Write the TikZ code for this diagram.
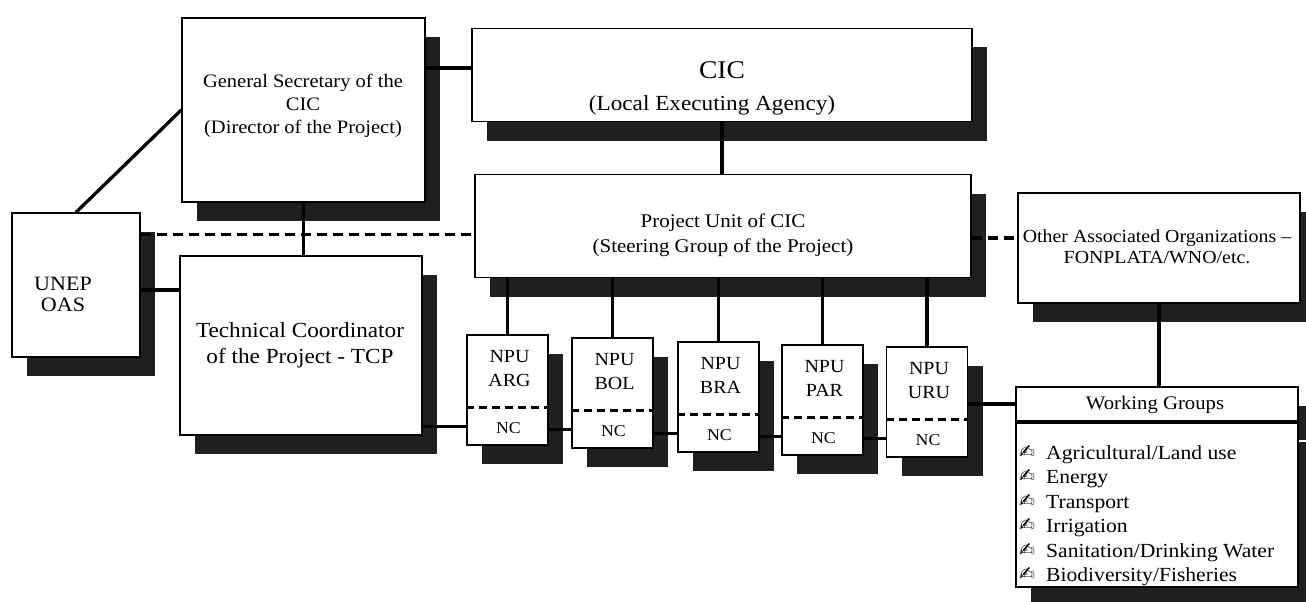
\documentclass[tikz,border=0pt]{standalone}
\usepackage{fontspec}
\setmainfont{Liberation Serif}[FakeStretch=1.08]
\newfontfamily\dejavu{DejaVu Sans}
\usetikzlibrary{shadows,calc}
\begin{document}
\begin{tikzpicture}[x=1pt,y=-1pt,
  box/.style={draw=black, line width=1.4pt, fill=white, rectangle, inner sep=0pt,
     drop shadow={shadow xshift=15pt, shadow yshift=-19pt, fill=black!88, opacity=1}},
  txt/.style={inner sep=0pt, anchor=base},
  link/.style={line width=3.3pt},
  dashlink/.style={line width=3.3pt, dash pattern=on 10pt off 6pt},
  npudiv/.style={line width=3pt, dash pattern=on 8pt off 5pt},
]
\useasboundingbox (0,0) rectangle (1306,602);

% boxes
\node[box, minimum width=243pt, minimum height=184pt] (gs) at (303.5,110) {};
\node[box, minimum width=500pt, minimum height=93pt] (cic) at (722,75) {};
\node[box, minimum width=496pt, minimum height=103pt] (pu) at (723,226) {};
\node[box, minimum width=128pt, minimum height=144pt] (unep) at (76,285) {};
\node[box, minimum width=242pt, minimum height=179pt] (tcp) at (301,345.5) {};
\node[box, minimum width=282pt, minimum height=110pt] (other) at (1159,248) {};
\node[box, minimum width=282pt, minimum height=34pt] (wgh) at (1157,404) {};
\node[box, minimum width=282pt, minimum height=164pt] (wgl) at (1157,505) {};

% NPU boxes
\foreach \n/\lab/\x/\t in {arg/ARG/507.5/335, bol/BOL/612.5/338, bra/BRA/718.5/342, par/PAR/822.5/345, uru/URU/927/347}{
  \node[box, minimum width=81pt, minimum height=110pt] (\n) at (\x,\t+55) {};
  \draw[npudiv] ($(\n.north west)+(0,73)$) -- ($(\n.north east)+(0,73)$);
  \node[txt, font=\fontsize{18.5}{22}\selectfont] (\n t1) at (\x+2,\t+27) {NPU};
  \node[txt, font=\fontsize{18.5}{22}\selectfont] (\n t2) at (\x+2,\t+51) {\lab};
  \node[txt, font=\fontsize{16.5}{20}\selectfont] (\n t3) at (\x+1,\t+98) {NC};
  \coordinate (nc\n) at (\x,\t+91.5);
}

% texts
\node[txt, font=\fontsize{19}{23}\selectfont] (gs1) at (303,87) {General Secretary of the};
\node[txt, font=\fontsize{19}{23}\selectfont] (gs2) at (303,110) {CIC};
\node[txt, font=\fontsize{19}{23}\selectfont] (gs3) at (303,133) {(Director of the Project)};
\node[txt, font=\fontsize{25.5}{30}\selectfont] (cic1) at (722,78) {CIC};
\node[txt, font=\fontsize{21.5}{26}\selectfont] (cic2) at (712,110) {(Local Executing Agency)};
\node[txt, font=\fontsize{19.4}{24}\selectfont] (pu1) at (723,227) {Project Unit of CIC};
\node[txt, font=\fontsize{19.4}{24}\selectfont] (pu2) at (723,252) {(Steering Group of the Project)};
\node[txt, font=\fontsize{20.4}{24}\selectfont] (un1) at (63,290) {UNEP};
\node[txt, font=\fontsize{20.4}{24}\selectfont] (un2) at (63,311) {OAS};
\node[txt, font=\fontsize{21.5}{26}\selectfont] (tc1) at (300,337) {Technical Coordinator};
\node[txt, font=\fontsize{21.5}{26}\selectfont] (tc2) at (300,363) {of the Project - TCP};
\node[txt, font=\fontsize{18.4}{21}\selectfont] (ot1) at (1157,242) {Other Associated Organizations --};
\node[txt, font=\fontsize{18.4}{21}\selectfont] (ot2) at (1157,263) {FONPLATA/WNO/etc.};
\node[txt, font=\fontsize{19.2}{23}\selectfont] (wgt) at (1155,409) {Working Groups};
\foreach \item [count=\i] in {Agricultural/Land use, Energy, Transport, Irrigation, Sanitation/Drinking Water, Biodiversity/Fisheries}{
  \node[txt, anchor=base west, font=\dejavu\fontsize{19}{21}\selectfont] (wgb\i) at (1019,458+24.5*\i-24.5) {✍};
  \node[txt, anchor=base west, font=\fontsize{20}{24}\selectfont] (wgi\i) at (1046,459+24.5*\i-24.5) {\item};
}

% connectors
\draw[link] (unep.north) -- (gs.west);
\coordinate (g1) at ($(cic.west)+(0,-7)$);
\draw[link] (g1 -| gs.east) -- (g1);
\draw[link] (cic.south) -- (cic.south |- pu.north);
\draw[link] (gs.south) -- (gs.south |- tcp.north);
\coordinate (d1) at ($(unep.north east)+(0,22)$);
\draw[dashlink] (d1) -- (d1 -| pu.west);
\coordinate (d2) at ($(other.west)+(0,-10)$);
\draw[dashlink] (d2 -| pu.east) -- (d2);
\coordinate (d3) at ($(unep.east)+(0,5)$);
\draw[link] (d3) -- (d3 -| tcp.west);
\draw[link] (other.south) -- (other.south |- wgh.north);
\foreach \n in {arg,bol,bra,par,uru}{
  \draw[link] (pu.south -| \n.north) -- (\n.north);
}
\draw[link] (tcp.east |- ncarg) -- (arg.west |- ncarg);
\draw[link] (arg.east |- ncbol) -- (bol.west |- ncbol);
\draw[link] (bol.east |- ncbra) -- (bra.west |- ncbra);
\draw[link] (bra.east |- ncpar) -- (par.west |- ncpar);
\draw[link] (par.east |- ncuru) -- (uru.west |- ncuru);
\draw[link] (uru.east |- wgh.west) -- (wgh.west);
\end{tikzpicture}
\end{document}
